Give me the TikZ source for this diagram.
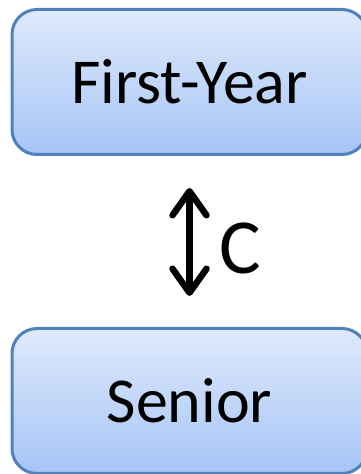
\documentclass[tikz,border=0pt]{standalone}
\usepackage{fontspec}
\setmainfont{Carlito}
\usetikzlibrary{arrows.meta}
\definecolor{boxtop}{RGB}{222,233,252}
\definecolor{boxbot}{RGB}{166,197,246}
\definecolor{boxline}{RGB}{79,129,189}
\tikzset{
  stagebox/.style={draw=boxline, line width=3pt, rounded corners=25pt,
    top color=boxtop, bottom color=boxbot, minimum width=355pt,
    minimum height=145pt, inner sep=0pt, font=\fontsize{64}{70}\selectfont},
  mybarb/.tip={Straight Barb[length=24pt, width=34pt, line cap=round, line join=round]},
  biarrow/.style={line width=6.5pt, line cap=round, mybarb-mybarb}
}
\begin{document}
\begin{tikzpicture}[x=1pt,y=1pt]
\useasboundingbox (0,0) rectangle (360,474);
\node[stagebox] (fy) at (189.5,392) {First-Year};
\node[stagebox] (sr) at (189.5,73) {Senior};
\coordinate (atop) at (189.5,286);
\coordinate (abot) at (189.5,178);
\draw[biarrow] (abot) -- (atop);
\node[font=\fontsize{78}{84}\selectfont, anchor=west, inner sep=0pt] (c) at (219,226) {C};
\end{tikzpicture}
\end{document}
